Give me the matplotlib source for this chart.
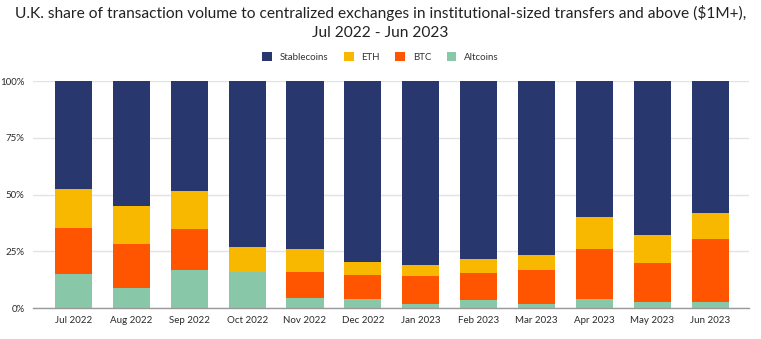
import matplotlib
matplotlib.use("Agg")
import matplotlib.pyplot as plt
import numpy as np
from matplotlib.ticker import FuncFormatter

months = ["Jul 2022", "Aug 2022", "Sep 2022", "Oct 2022", "Nov 2022", "Dec 2022",
          "Jan 2023", "Feb 2023", "Mar 2023", "Apr 2023", "May 2023", "Jun 2023"]
altcoins = [14.8, 9.0, 16.6, 16.0, 4.4, 4.1, 1.8, 3.5, 1.8, 3.8, 2.8, 2.8]
btc = [20.6, 19.0, 18.1, 0.0, 11.6, 10.4, 12.4, 12.1, 14.8, 22.0, 16.9, 27.7]
eth = [16.9, 16.9, 16.8, 10.9, 9.8, 5.8, 4.7, 6.1, 6.7, 14.1, 12.3, 11.4]
stablecoins = [100 - a - b - e for a, b, e in zip(altcoins, btc, eth)]

colors = {"Stablecoins": "#28376E", "ETH": "#F9B800", "BTC": "#FF5500", "Altcoins": "#88C8A8"}

plt.rcParams['font.family'] = ['Lato', 'DejaVu Sans']
fig = plt.figure(figsize=(7.61, 3.39), dpi=100)
ax = fig.add_axes([0.0434, 0.0914, 0.9406, 0.6696])

x = np.arange(len(months))
w = 0.64
bottom = np.zeros(len(months))
handles = {}
for name, vals in [("Altcoins", altcoins), ("BTC", btc), ("ETH", eth), ("Stablecoins", stablecoins)]:
    v = np.array(vals) / 100
    handles[name] = ax.bar(x, v, w, bottom=bottom, color=colors[name], zorder=3, linewidth=0)
    bottom += v

ax.set_xlim(-0.70, 11.67)
ax.set_ylim(0, 1)
ax.set_yticks([0, 0.25, 0.5, 0.75, 1.0])
ax.yaxis.set_major_formatter(FuncFormatter(lambda v, p: f"{int(round(v*100))}%"))
ax.set_xticks(x)
ax.set_xticklabels(months)
ax.tick_params(axis='both', labelsize=7, colors='#2a2a2a', length=0, pad=6)
ax.grid(axis='y', color='#e3e3e3', linewidth=1, zorder=0)
for s in ['top', 'right', 'left']:
    ax.spines[s].set_visible(False)
ax.spines['bottom'].set_color('#999999')
ax.spines['bottom'].set_linewidth(1)
ax.spines['bottom'].set_zorder(4)

order = ["Stablecoins", "ETH", "BTC", "Altcoins"]
fig.legend([handles[n] for n in order], order, loc='center', bbox_to_anchor=(0.5, 0.832),
           ncol=4, frameon=False, fontsize=7, handlelength=1, handleheight=1,
           columnspacing=1.6, handletextpad=0.8, labelcolor='#333333')

fig.text(0.5, 0.963, "U.K. share of transaction volume to centralized exchanges in institutional-sized transfers and above ($1M+),",
         ha='center', va='center', fontsize=11.2, color='#222222')
fig.text(0.5, 0.903, "Jul 2022 - Jun 2023", ha='center', va='center', fontsize=11.2, color='#222222')

fig.savefig("out.png", dpi=100)
